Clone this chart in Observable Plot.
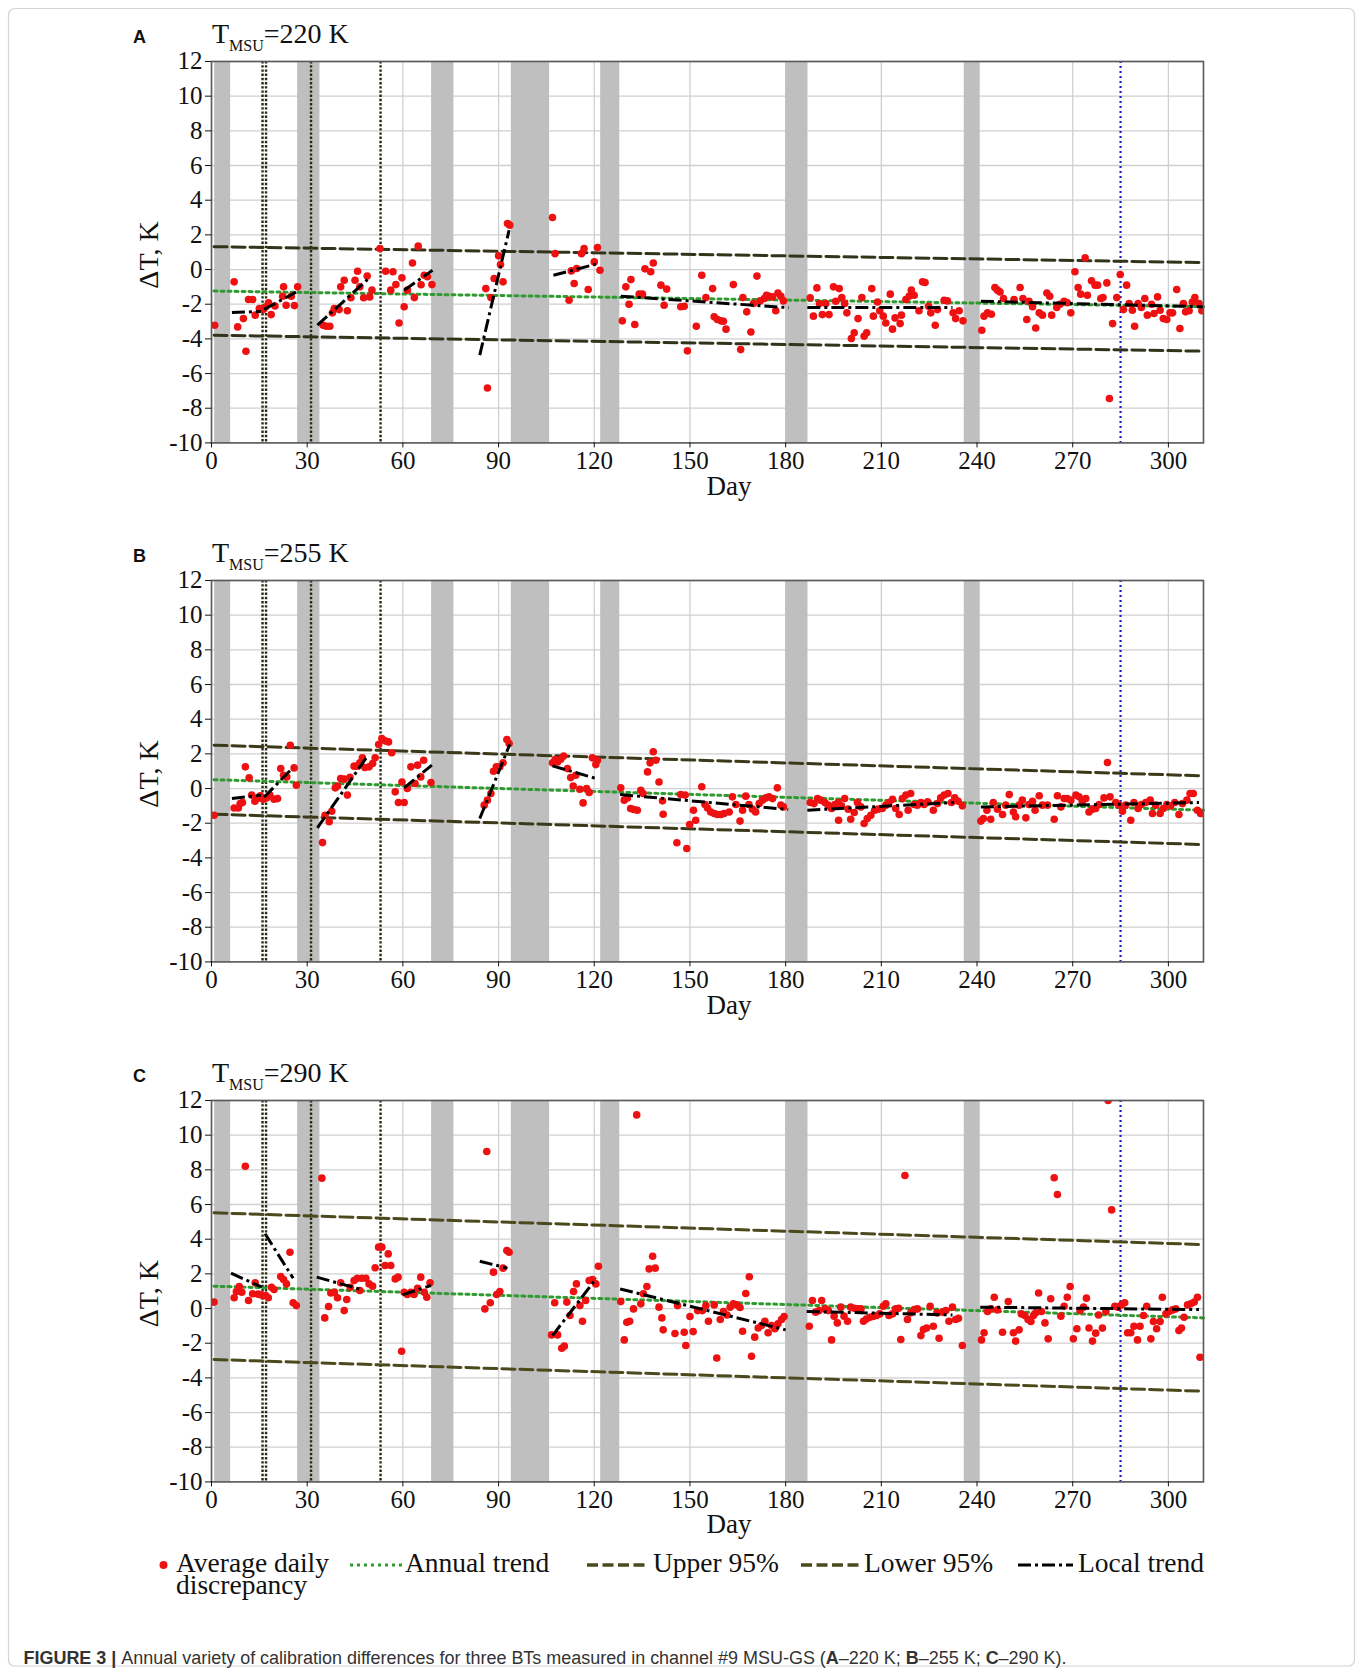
<!DOCTYPE html>
<html><head><meta charset="utf-8">
<script src="https://cdn.jsdelivr.net/npm/d3@7"></script>
<script src="https://cdn.jsdelivr.net/npm/@observablehq/plot@0.6"></script>
<style>
html,body{margin:0;padding:0;background:#fff;}
#fig{position:relative;width:1363px;height:1675px;overflow:hidden;background:#fff;}
#fig > svg{position:absolute;left:0;}
</style></head><body><div id="fig"></div>
<script>
// ---------- data ----------
const xTicks = [0, 30, 60, 90, 120, 150, 180, 210, 240, 270, 300];
const yTicks = [-10, -8, -6, -4, -2, 0, 2, 4, 6, 8, 10, 12];
const panelLetters = ["A", "B", "C"];
const panelTemps = ["220", "255", "290"];
const bands = [[1, 6], [27, 34], [69, 76], [94, 106], [122, 128], [180, 187], [236, 241]];
const eventDays = [16, 17.1, 31.2, 53];
const blueDays = [285];

const pointsA = [[1.0,-3.21],[7.1,-0.71],[8.2,-3.31],[10.0,-2.83],[10.8,-4.71],[11.6,-1.73],[12.9,-1.73],[13.7,-2.63],[15.0,-2.25],[16.2,-2.31],[17.0,-2.15],[17.9,-1.92],[18.7,-2.6],[19.9,-2.1],[22.3,-1.54],[22.6,-1.0],[23.4,-2.06],[25.0,-1.54],[26.0,-2.08],[27.0,-1.0],
[35.0,-3.21],[36.0,-3.27],[37.1,-3.27],[37.9,-2.5],[38.5,-2.25],[40.0,-2.31],[40.5,-1.0],[41.6,-0.62],[42.6,-2.38],[43.7,-1.63],[45.0,-0.62],[45.8,-0.1],[46.5,-1.0],[47.7,-1.63],[48.8,-0.38],[49.6,-1.58],[50.3,-1.19],[52.8,1.21],[54.6,-0.1],[56.2,-1.19],[56.9,-0.13],[57.8,-0.87],[58.8,-3.08],[59.7,-0.48],[60.4,-2.15],[61.4,-1.19],[63.0,0.38],[63.6,-1.62],[64.8,1.35],[65.7,-0.88],[66.7,-0.33],[67.7,-0.42],[69.1,-0.87],
[86.0,-1.1],[86.5,-6.83],[87.6,-1.62],[88.6,-0.52],[90.0,0.79],[90.6,0.29],[91.4,-0.71],[92.8,2.65],[93.5,2.56],
[106.9,3.0],[107.7,0.92],[112.1,-1.77],[112.8,-0.08],[113.7,-0.81],[114.5,0.06],[116.0,0.92],[116.8,1.21],[118.1,-1.15],[120.0,0.44],[121.0,1.27],[121.8,-0.04],
[128.8,-2.96],[129.9,-1.0],[130.9,-2.0],[131.5,-0.58],[132.7,-3.17],[134.1,-1.42],[135.1,-1.42],[135.9,0.04],[137.7,-0.13],[138.5,0.38],[140.9,-0.9],[141.9,-2.06],[142.7,-1.13],[147.1,-2.15],[148.2,-2.12],[149.2,-4.69],[152.0,-3.27],[153.7,-0.33],[155.0,-1.62],
[157.1,-1.1],[157.6,-2.73],[158.6,-2.88],[159.7,-2.96],[160.5,-2.98],[161.3,-3.44],[163.6,-0.87],[165.9,-4.62],[166.6,-1.62],[167.8,-2.44],[169.1,-3.6],[169.9,-1.96],[171.0,-0.38],[172.0,-1.81],[173.3,-1.67],[174.0,-1.48],[174.8,-1.54],[175.9,-1.58],[176.9,-2.38],[177.6,-1.35],[178.5,-1.54],[179.3,-1.81],
[187.7,-1.63],[188.7,-2.69],[189.8,-1.06],[190.6,-1.96],[191.5,-2.6],[192.6,-1.96],[193.6,-2.6],[195.0,-1.0],[195.7,-1.83],[196.8,-1.1],[197.6,-1.62],[198.5,-1.96],[199.2,-2.5],[200.6,-3.98],[201.5,-3.65],[202.7,-2.83],[203.9,-1.62],[204.6,-3.85],[205.4,-3.65],[207.0,-1.1],[207.5,-2.69],[208.8,-1.87],[209.5,-2.38],[210.6,-2.69],[211.4,-3.08],[212.8,-1.42],[213.5,-3.44],[214.3,-2.79],[215.9,-3.12],[216.3,-2.63],[217.7,-1.73],[218.7,-1.54],[219.4,-1.19],[220.3,-1.48],[221.8,-2.38],[222.9,-0.71],[223.7,-0.75],[224.8,-2.12],[225.5,-2.5],[226.9,-3.21],[227.6,-2.31],[229.7,-1.77],[230.7,-1.81],[232.5,-2.5],[233.3,-2.83],[234.4,-2.38],[235.6,-2.96],
[241.5,-3.5],[242.2,-2.69],[243.3,-2.5],[244.5,-2.58],[245.6,-1.04],[246.4,-1.19],[247.2,-1.29],[248.3,-1.67],[251.6,-1.73],[253.5,-1.04],[254.4,-1.67],[255.6,-2.88],[256.3,-1.83],[257.4,-2.15],[258.4,-3.37],[259.5,-2.5],[260.5,-2.63],[261.9,-1.35],[262.8,-1.54],[263.4,-2.63],[265.0,-2.19],[266.0,-2.0],[267.3,-1.83],[268.3,-1.92],[269.4,-2.5],[270.7,-0.13],[271.7,-1.04],[272.5,-1.42],[273.9,0.67],[274.6,-1.48],[275.9,-0.65],[277.0,-0.9],[277.8,-0.9],[278.8,-1.67],[279.5,-1.62],[280.7,-0.77],[281.5,-7.44],[282.5,-3.12],[283.8,-1.62],[284.9,-0.29],[285.9,-2.31],[286.9,-0.9],[287.7,-1.96],[288.7,-2.35],[289.4,-3.27],[290.5,-1.96],[291.5,-2.19],[292.6,-1.67],[293.4,-2.63],[294.7,-2.0],[295.5,-2.54],[296.6,-1.58],[297.4,-2.35],[298.4,-2.83],[299.5,-2.88],[300.5,-2.5],[301.3,-2.5],[302.6,-1.15],[303.6,-3.4],[304.7,-1.96],[305.4,-2.44],[306.5,-2.38],[307.5,-1.87],[308.3,-1.62],[309.6,-1.96],[310.5,-2.38]];

const pointsB = [[0.8,-1.54],[7.1,-1.12],[8.4,-1.12],[9.0,-0.87],[9.7,-0.81],[10.6,1.25],[11.8,0.62],[12.6,-0.38],[13.6,-0.73],[14.4,-0.58],[15.3,-0.42],[16.2,-0.62],[17.2,-0.54],[18.3,-0.38],[19.6,-0.62],[20.7,-0.58],[21.7,1.15],[22.6,0.77],[23.6,0.67],[24.7,2.5],[25.9,1.19],[26.6,0.19],
[34.8,-3.12],[35.6,-1.54],[36.9,-1.92],[37.7,-1.31],[38.8,0.04],[39.5,0.15],[40.5,0.58],[41.6,0.54],[42.6,-0.38],[43.4,0.65],[44.7,1.29],[45.6,1.29],[46.5,1.48],[47.3,1.77],[48.1,1.21],[49.4,1.25],[50.5,1.44],[51.3,1.77],[52.4,2.54],[53.4,2.88],[54.4,2.75],[55.5,2.69],[56.5,2.06],[57.6,-0.19],[58.6,-0.81],[59.7,0.38],[60.4,-0.81],[61.4,0.0],[62.5,1.25],[63.8,0.29],[64.6,1.35],[65.6,0.67],[66.5,1.63],[68.8,0.35],
[85.5,-0.96],[86.5,-0.67],[87.6,-0.29],[88.4,1.0],[89.3,1.25],[90.4,1.25],[91.4,1.48],[92.6,2.83],[93.3,2.6],
[106.9,1.48],[107.7,1.67],[108.5,1.54],[109.5,1.69],[110.4,1.88],[111.6,1.15],[112.6,0.63],[113.4,0.15],[114.2,0.77],[115.5,-0.04],[116.5,-0.83],[117.6,0.0],[118.4,-0.23],[119.4,1.77],[120.5,1.38],[121.0,1.63],
[128.3,0.04],[129.4,-0.67],[130.4,-0.54],[131.4,-1.15],[132.4,-1.21],[133.5,-1.25],[134.6,-0.1],[135.3,-0.29],[136.7,0.96],[137.5,1.48],[138.5,2.12],[139.3,1.63],[140.3,0.38],[141.4,-0.71],[141.6,-1.48],[145.9,-3.13],[147.1,-0.35],[148.5,-0.38],[149.0,-3.46],[149.9,-2.08],[151.1,-1.25],[151.8,-1.83],[153.7,0.1],
[154.7,-0.92],[155.5,-1.12],[156.5,-1.35],[157.6,-1.44],[158.6,-1.5],[159.7,-1.5],[160.7,-1.44],[162.3,-1.35],[163.3,-0.48],[164.4,-0.92],[165.7,-1.88],[166.5,-1.25],[167.5,-0.44],[168.5,-0.92],[169.6,-1.19],[170.6,-1.35],[171.7,-0.87],[172.7,-0.67],[173.8,-0.54],[174.8,-0.48],[175.9,-0.58],[177.4,0.04],[178.5,-0.96],[179.3,-1.06],
[187.7,-0.81],[188.9,-0.87],[190.0,-0.58],[191.0,-0.67],[192.3,-0.81],[193.3,-0.96],[194.4,-1.15],[195.4,-0.92],[196.5,-0.81],[196.6,-1.83],[197.5,-1.0],[198.5,-0.58],[199.6,-1.19],[200.4,-1.77],[201.5,-1.38],[202.5,-0.81],[203.6,-1.06],[204.6,-2.02],[205.6,-1.73],[206.7,-1.54],[207.9,-1.25],[209.0,-1.19],[210.3,-1.15],[211.4,-0.96],[212.4,-0.81],[213.5,-0.62],[214.5,-1.15],[215.6,-1.5],[216.6,-0.58],[217.7,-0.38],[218.4,-1.25],[219.2,-0.29],[220.3,-0.92],[221.3,-0.96],[222.4,-0.81],[223.4,-0.92],[224.5,-0.77],[226.3,-1.25],[227.6,-0.87],[228.6,-0.54],[229.7,-0.38],[230.9,-0.29],[232.0,-0.81],[233.0,-0.54],[234.1,-0.73],[235.4,-1.0],
[241.2,-1.88],[242.0,-1.73],[243.1,-1.25],[244.3,-1.77],[245.1,-0.81],[246.4,-1.19],[248.0,-1.5],[249.0,-0.96],[250.1,-0.35],[251.4,-1.35],[252.1,-1.63],[253.2,-0.96],[254.2,-0.67],[255.3,-1.69],[256.3,-0.92],[257.4,-0.73],[258.2,-1.25],[259.5,-0.42],[260.5,-0.96],[262.1,-0.96],[264.2,-1.77],[265.2,-0.42],[266.3,-1.06],[267.3,-0.58],[268.3,-0.58],[269.4,-0.67],[271.0,-0.38],[272.0,-0.48],[273.0,-0.73],[274.1,-0.58],[275.1,-1.35],[276.2,-1.19],[277.2,-1.15],[278.3,-0.92],[279.8,-0.54],[280.9,1.5],[281.7,-0.48],[283.5,-0.81],[284.5,-0.96],[285.6,-1.31],[286.6,-0.96],[288.2,-1.83],[289.2,-0.81],[290.5,-1.15],[291.5,-0.92],[292.9,-0.81],[294.3,-0.67],[295.0,-1.44],[296.0,-0.96],[297.4,-1.44],[298.4,-1.15],[299.5,-0.92],[300.7,-1.0],[302.0,-0.81],[303.3,-1.5],[304.4,-0.87],[305.8,-0.67],[306.8,-0.29],[307.8,-0.29],[309.1,-1.25],[310.1,-1.44]];

const pointsC = [[0.8,0.37],[7.1,0.62],[7.8,0.98],[8.7,1.27],[9.5,0.94],[10.6,8.21],[11.6,0.46],[12.9,0.85],[13.7,1.48],[14.6,0.83],[15.5,0.79],[16.2,0.75],[17.0,0.75],[17.8,0.62],[18.8,1.23],[19.6,1.1],[21.7,1.85],[22.6,1.67],[23.5,1.42],[24.6,3.25],[25.6,0.33],[26.6,0.17],
[34.6,7.52],[35.5,-0.54],[36.7,0.12],[37.4,0.9],[38.5,0.94],[39.5,0.62],[40.5,1.48],[41.6,-0.12],[42.4,0.52],[43.5,1.23],[44.7,1.62],[45.7,1.75],[46.5,1.04],[47.1,1.75],[48.4,1.75],[49.4,1.42],[50.5,1.29],[51.3,2.35],[52.4,3.54],[53.4,3.54],[54.4,2.48],[55.4,3.15],[56.2,2.48],[57.6,1.71],[58.5,1.81],[59.6,-2.46],[60.4,0.94],[61.4,0.81],[62.5,0.94],[63.5,0.81],[64.6,1.17],[65.6,1.81],[66.7,0.94],[67.5,0.65],[68.5,1.48],
[85.7,-0.02],[86.3,9.06],[87.4,0.33],[88.4,2.1],[89.4,0.81],[90.4,0.98],[91.4,2.33],[92.6,3.35],[93.3,3.25],
[106.6,-1.52],[107.6,0.33],[108.5,-1.52],[109.8,-2.29],[110.6,-2.17],[111.4,0.37],[112.4,-0.4],[113.5,0.98],[114.4,1.42],[115.5,0.17],[116.3,-0.73],[117.3,0.46],[118.4,1.62],[119.4,1.67],[120.5,1.42],[121.3,2.44],
[128.3,0.4],[129.4,-1.81],[130.2,-0.79],[131.1,-0.73],[132.3,-0.02],[133.3,11.17],[134.6,0.27],[135.4,0.85],[136.5,1.27],[137.2,2.29],[138.3,3.02],[139.1,2.33],[140.3,0.08],[141.2,-0.54],[141.6,-1.23],[145.3,-1.44],[146.1,0.17],[148.2,-1.37],[148.7,-2.13],[150.0,-0.46],[151.0,-1.33],[152.4,-0.12],[153.9,-0.12],[155.0,0.17],[155.8,-0.73],
[157.6,0.21],[158.4,-2.85],[159.5,-0.63],[160.5,-0.17],[161.6,-0.37],[162.6,0.08],[163.6,0.27],[164.7,0.21],[165.7,0.06],[166.5,-1.31],[167.5,0.87],[168.6,1.83],[169.3,-2.75],[170.3,-1.65],[171.4,-1.12],[172.4,-0.98],[173.5,-0.73],[174.5,-1.4],[175.6,-0.98],[176.6,-1.17],[177.6,-0.88],[178.7,-0.63],[179.5,-0.46],
[187.4,-1.02],[188.4,0.46],[189.4,-0.21],[190.5,-0.12],[191.3,0.46],[192.4,-0.02],[193.4,-0.12],[194.4,-1.81],[195.2,-0.44],[196.2,-0.83],[197.3,0.08],[198.3,-0.44],[199.4,-0.73],[200.4,0.08],[201.5,0.02],[202.5,-0.02],[203.6,-0.02],[204.4,-0.73],[205.3,-0.6],[206.4,-0.5],[207.4,-0.46],[208.5,-0.4],[209.5,-0.31],[210.6,0.13],[211.4,0.27],[212.4,-0.4],[213.5,-0.31],[214.5,-0.02],[215.4,0.02],[216.1,-1.79],[217.4,7.67],[218.2,-0.63],[219.2,-0.25],[220.3,-0.06],[221.3,-0.02],[222.4,-1.56],[223.2,-1.21],[224.2,-1.13],[225.3,0.13],[226.3,-1.02],[227.4,-0.25],[228.1,-1.71],[229.2,-0.21],[230.2,-0.12],[231.2,-0.73],[232.3,0.08],[233.3,-0.63],[234.2,-0.56],[235.4,-2.13],
[241.4,-1.81],[242.2,-1.4],[243.3,-0.17],[244.3,-0.02],[245.4,0.65],[246.4,-0.08],[248.0,-1.37],[249.8,0.4],[251.4,-1.4],[252.1,-1.88],[253.2,-1.23],[253.9,-0.31],[255.0,-0.4],[256.0,-0.63],[256.9,-0.75],[257.7,-0.4],[258.4,-0.25],[259.3,0.9],[260.2,-0.17],[261.3,-0.83],[262.3,-1.75],[263.1,0.56],[264.2,7.54],[265.2,6.58],[266.3,-0.44],[267.3,0.13],[268.3,0.65],[269.2,1.27],[270.2,-1.75],[271.3,-1.17],[272.3,-0.12],[273.4,0.08],[274.3,0.6],[275.1,-1.12],[276.2,-1.88],[277.2,-1.42],[278.1,-0.37],[279.3,-1.13],[280.4,-0.17],[281.1,12.0],[282.2,5.69],[283.2,0.13],[284.2,0.08],[285.3,0.21],[286.3,0.33],[287.2,-1.4],[288.2,-1.4],[289.2,-1.02],[290.3,-1.81],[291.1,-1.02],[292.2,-0.4],[293.2,0.13],[294.5,-1.75],[295.3,-0.75],[296.3,-1.17],[297.4,-0.75],[298.1,0.65],[299.2,-0.31],[300.2,-0.17],[301.3,-0.08],[302.3,-0.02],[303.3,-1.27],[304.1,-1.13],[304.9,-0.5],[306.0,0.21],[307.0,0.27],[308.1,0.37],[309.1,0.65],[309.9,-2.81]];

const upperA = [[0.8, 1.32], [311, 0.40]];
const lowerA = [[0.8, -3.79], [311, -4.71]];
const annualA = [[0.8, -1.24], [311, -2.14]];
const upperB = [[0.8, 2.5], [311, 0.73]];
const lowerB = [[0.8, -1.48], [311, -3.23]];
const annualB = [[0.8, 0.51], [311, -1.25]];
const upperC = [[0.8, 5.52], [311, 3.69]];
const lowerC = [[0.8, -2.94], [311, -4.77]];
const annualC = [[0.8, 1.29], [311, -0.54]];

const localA = [[6.4,-2.48,15.5,-2.42],[16.5,-2.3,26.5,-1.3],[33.2,-3.21,48.9,-0.58],[60.4,-1.19,69.3,-0.04],[84.1,-4.94,93.3,2.27],[107.2,-0.33,120.5,0.31],[128.3,-1.54,181,-2.2],[186.8,-2.19,232.3,-2.19],[241.2,-1.83,311,-2.15]];
const localB = [[6.4,-0.58,15.5,-0.38],[16.5,-0.5,25.5,1.2],[33.2,-2.27,49.1,1.92],[60.4,0.04,69.1,1.35],[84.1,-1.73,93.5,2.54],[106.9,1.31,120.5,0.58],[128.1,-0.35,180.8,-1.21],[186.8,-1.25,232.8,-0.81],[241.2,-1.06,309.6,-0.81]];
const localC = [[6.1,2.04,15.8,1.23],[16.8,4.31,25.6,1.75],[33.0,1.81,46.3,1.13],[59.9,0.79,68.8,1.33],[84.1,2.73,92.8,2.33],[106.9,-1.56,120.7,1.75],[128.1,1.13,180.0,-1.23],[186.6,-0.17,232.3,-0.37],[241.0,0.08,309.6,-0.06]];

// ---------- layout ----------
const W = 1363, H = 1675;
const SERIF = "'Liberation Serif', 'Times New Roman', serif";
const SANS = "'Liberation Sans', Arial, sans-serif";
const plotTops = [61.3, 580.3, 1100];
const plotH = 381.4;
const MT = 12, MB = 62, ML = 211, MR = W - 1203;
const RED = "#ee1111", GREEN = "#2f9a2f", OLIVE = ["#33331a", "#3a3a18", "#4a4a1c"];

const fig = d3.select("#fig");

const panels = [
  {pts: pointsA, up: upperA, lo: lowerA, an: annualA, loc: localA},
  {pts: pointsB, up: upperB, lo: lowerB, an: annualB, loc: localB},
  {pts: pointsC, up: upperC, lo: lowerC, an: annualC, loc: localC}
];

panels.forEach((p, i) => {
  const chart = Plot.plot({
    width: W,
    height: MT + plotH + MB,
    marginTop: MT, marginBottom: MB, marginLeft: ML, marginRight: MR,
    x: {domain: [0, 311]},
    y: {domain: [-10, 12]},
    style: {background: "transparent", fontFamily: SERIF, fontSize: "25px", color: "#1a1a1a", overflow: "visible"},
    marks: [
      Plot.ruleX(xTicks, {stroke: "#d0d0d0", strokeWidth: 1.3}),
      Plot.ruleY(yTicks, {stroke: "#d0d0d0", strokeWidth: 1.3}),
      Plot.rect(bands, {x1: d => d[0], x2: d => d[1], fill: "#bfbfbf"}),
      Plot.ruleX(eventDays, {stroke: "#2a2a10", strokeWidth: 2.4, strokeDasharray: "2.4,1.8"}),
      Plot.ruleX(blueDays, {stroke: "#1c1cd0", strokeWidth: 2.2, strokeDasharray: "2,3"}),
      Plot.line(p.up, {x: d => d[0], y: d => d[1], stroke: OLIVE[i], strokeWidth: 3, strokeDasharray: "13,5"}),
      Plot.line(p.lo, {x: d => d[0], y: d => d[1], stroke: OLIVE[i], strokeWidth: 3, strokeDasharray: "13,5"}),
      Plot.line(p.an, {x: d => d[0], y: d => d[1], stroke: GREEN, strokeWidth: 3, strokeDasharray: "3,4"}),
      Plot.dot(p.pts, {x: d => d[0], y: d => d[1], r: 3.8, fill: RED, stroke: "none", clip: true}),
      Plot.link(p.loc, {x1: d => d[0], y1: d => d[1], x2: d => d[2], y2: d => d[3], stroke: "#000", strokeWidth: 3, strokeDasharray: "13,4,3,4"}),
      Plot.frame({stroke: "#5a5a5a", strokeWidth: 1.6}),
      Plot.axisY(yTicks, {tickSize: 6, tickPadding: 3, tickFormat: d => String(d), fontSize: 25, fontFamily: SERIF, color: "#111", label: null}),
      Plot.axisX(xTicks, {tickSize: 5, tickPadding: 3, tickFormat: d => String(d), fontSize: 25, fontFamily: SERIF, color: "#111", label: null})
    ]
  });
  chart.style.top = (plotTops[i] - MT) + "px";
  fig.node().appendChild(chart);
});

// ---------- overlay: titles, axis labels, legend, caption ----------
const svg = fig.append("svg").attr("width", W).attr("height", H).style("top", "0px").style("pointer-events", "none");

svg.append("rect").attr("x", 8.5).attr("y", 8.5).attr("width", 1346).attr("height", 1657.5)
  .attr("rx", 6).attr("fill", "none").attr("stroke", "#d4d4d4").attr("stroke-width", 1.2);

plotTops.forEach((top, i) => {
  svg.append("text").attr("x", 133).attr("y", top - 18).attr("font-family", SANS).attr("font-weight", "bold")
    .attr("font-size", 18).attr("fill", "#111").text(panelLetters[i]);
  const t = svg.append("text").attr("x", 212).attr("y", top - 18).attr("font-family", SERIF)
    .attr("font-size", 28).attr("fill", "#111");
  t.append("tspan").text("T");
  t.append("tspan").attr("font-size", 16).attr("dy", 8).text("MSU");
  t.append("tspan").attr("dy", -8).text("=" + panelTemps[i] + " K");
  svg.append("text").attr("transform", `translate(158,${top + plotH / 2 + 3}) rotate(-90)`)
    .attr("text-anchor", "middle").attr("font-family", SERIF).attr("font-size", 28).attr("fill", "#111").text("ΔT, K");
  svg.append("text").attr("x", 729).attr("y", top + plotH + 52).attr("text-anchor", "middle")
    .attr("font-family", SERIF).attr("font-size", 27).attr("fill", "#111").text("Day");
});

// legend
const LY = 1565, LT = 1572;
const lg = svg.append("g").attr("font-family", SERIF).attr("font-size", 27.5).attr("fill", "#111");
lg.append("circle").attr("cx", 163.5).attr("cy", LY).attr("r", 4).attr("fill", RED);
const lt1 = lg.append("text").attr("x", 176).attr("y", LT);
lt1.append("tspan").attr("x", 176).text("Average daily");
lt1.append("tspan").attr("x", 176).attr("dy", 22).text("discrepancy");
lg.append("line").attr("x1", 350).attr("x2", 404).attr("y1", LY).attr("y2", LY)
  .attr("stroke", GREEN).attr("stroke-width", 3).attr("stroke-dasharray", "3,4");
lg.append("text").attr("x", 405).attr("y", LT).text("Annual trend");
lg.append("line").attr("x1", 587).attr("x2", 645).attr("y1", LY).attr("y2", LY)
  .attr("stroke", "#4a4a1c").attr("stroke-width", 3.5).attr("stroke-dasharray", "11,4.5");
lg.append("text").attr("x", 653).attr("y", LT).text("Upper 95%");
lg.append("line").attr("x1", 801).attr("x2", 859).attr("y1", LY).attr("y2", LY)
  .attr("stroke", "#4a4a1c").attr("stroke-width", 3.5).attr("stroke-dasharray", "11,4.5");
lg.append("text").attr("x", 864).attr("y", LT).text("Lower 95%");
lg.append("line").attr("x1", 1018).attr("x2", 1073).attr("y1", LY).attr("y2", LY)
  .attr("stroke", "#000").attr("stroke-width", 3).attr("stroke-dasharray", "13,4,3,4");
lg.append("text").attr("x", 1078).attr("y", LT).text("Local trend");

// caption
const cap = svg.append("text").attr("x", 23.5).attr("y", 1664).attr("font-family", SANS).attr("font-size", 18)
  .attr("fill", "#333").attr("textLength", 1043).attr("lengthAdjust", "spacingAndGlyphs");
cap.append("tspan").attr("font-weight", "bold").text("FIGURE 3 | ");
cap.append("tspan").text("Annual variety of calibration differences for three BTs measured in channel #9 MSU-GS (");
cap.append("tspan").attr("font-weight", "bold").text("A");
cap.append("tspan").text("–220 K; ");
cap.append("tspan").attr("font-weight", "bold").text("B");
cap.append("tspan").text("–255 K; ");
cap.append("tspan").attr("font-weight", "bold").text("C");
cap.append("tspan").text("–290 K).");
</script></body></html>
